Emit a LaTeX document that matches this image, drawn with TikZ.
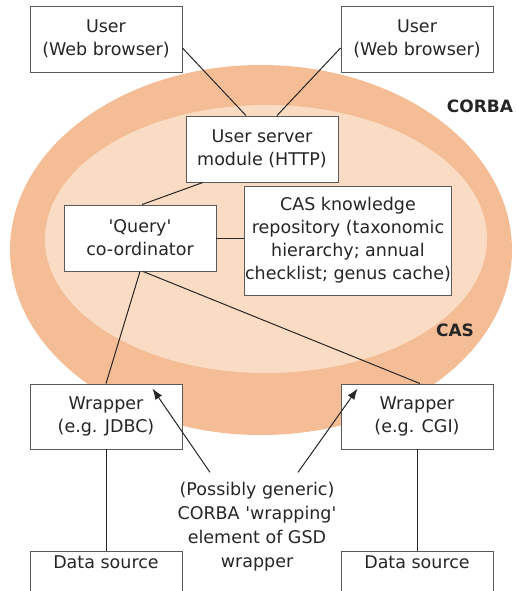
\documentclass[tikz,border=0pt]{standalone}
\usepackage{fontspec}
\setmainfont{DejaVu Sans}
\usetikzlibrary{arrows.meta}
\definecolor{corbaorange}{HTML}{F4BD96}
\definecolor{casorange}{HTML}{FADCC4}
\definecolor{boxgrey}{HTML}{5A5A5A}
\newcommand{\q}{\textquotesingle}
\tikzset{
  box/.style={draw=boxgrey, line width=0.9pt, fill=white, align=center,
    minimum width=152pt, minimum height=66pt, inner sep=1pt,
    font=\fontsize{17.5}{23}\selectfont, text=black!85},
  source/.style={box, anchor=north, text height=12pt, text depth=50pt, inner ysep=5pt},
  link/.style={line width=1pt, black!85},
  layer/.style={font=\fontsize{17}{20}\selectfont\bfseries, text=black!85}
}
\begin{document}
\begin{tikzpicture}[x=1pt, y=-1pt]
\clip (0,0) rectangle (515,591);
\fill[corbaorange] (261,250) ellipse [x radius=251pt, y radius=185pt];
\fill[casorange] (266,239) ellipse [x radius=221pt, y radius=134pt];
\node (corba) [layer] at (480,106) {CORBA};
\node (cas) [layer] at (455,330) {CAS};
\node (user1) [box] at (106,39) {User\\(Web browser)};
\node (user2) [box] at (417,39) {User\\(Web browser)};
\node (server) [box] at (262,149) {User server\\module (HTTP)};
\node (query) [box] at (140,238) {\q Query\q\\co-ordinator};
\node (repository) [box, minimum width=206pt, minimum height=109pt] at (348,240.5)
  {CAS knowledge\\repository (taxonomic\\hierarchy; annual\\checklist; genus cache)};
\node (wrapper1) [box, minimum height=65pt] at (106,416.5) {Wrapper\\(e.g. JDBC)};
\node (wrapper2) [box, minimum height=65pt] at (417,416.5) {Wrapper\\(e.g. CGI)};
\node (source1) [source] at (106,551) {Data source};
\node (source2) [source] at (417,551) {Data source};
\node (note) [align=center, font=\fontsize{17.5}{24}\selectfont, text=black!85, inner sep=0pt] at (257,527)
  {(Possibly generic)\\CORBA \q wrapping\q\\element of GSD\\wrapper};
\draw[link] ([yshift=-9pt]user1.east) -- ([xshift=-16pt]server.north);
\draw[link] ([yshift=-9pt]user2.west) -- ([xshift=15pt]server.north);
\draw[link] ([xshift=-59pt]server.south) -- ([xshift=2pt]query.north);
\draw[link] (query.east) -- (query.east -| repository.west);
\draw[link] (query.south) -- (wrapper1.north);
\draw[link] ([xshift=3pt]query.south) -- ([xshift=3pt]wrapper2.north);
\draw[link] (wrapper1.south) -- (source1.north);
\draw[link] (wrapper2.south) -- (source2.north);
\draw[link, -{Latex[length=11pt, width=8pt]}] ([shift={(-47pt,10pt)}]note.north) -- ([shift={(-30pt,-5pt)}]wrapper1.north east);
\draw[link, -{Latex[length=11pt, width=8pt]}] ([shift={(41pt,10pt)}]note.north) -- ([shift={(17pt,-5pt)}]wrapper2.north west);
\end{tikzpicture}
\end{document}
